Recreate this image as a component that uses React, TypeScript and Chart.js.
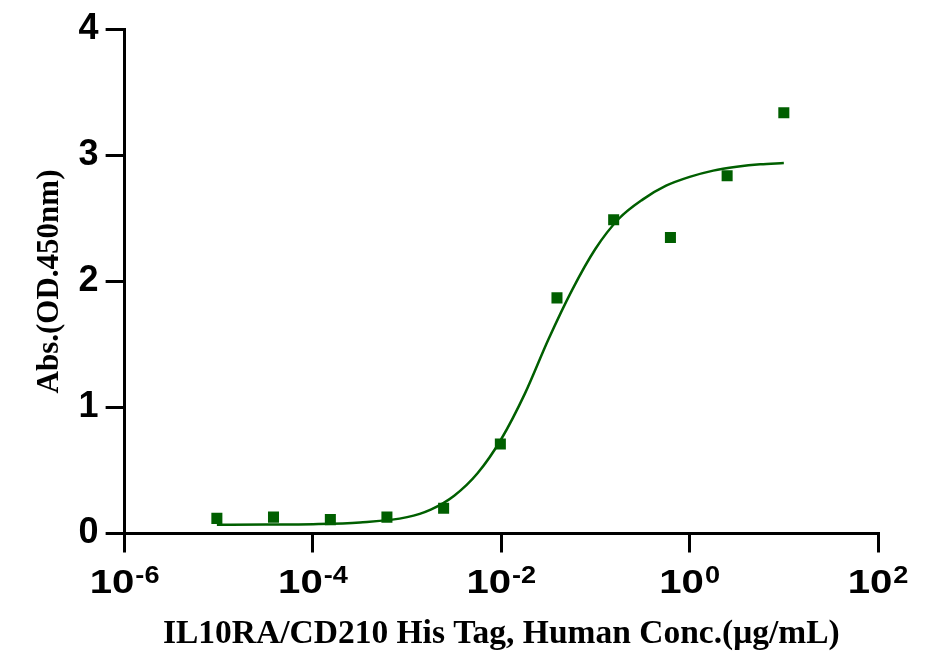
import React, { useEffect, useRef } from 'react';
import { Chart, registerables } from 'chart.js';
Chart.register(...registerables);

// measured points: 4-fold dilution series (µg/mL) and OD450 readings
const concentrations = [9.54e-6, 3.81e-5, 1.53e-4, 6.1e-4, 2.44e-3, 9.77e-3, 0.039, 0.156, 0.625, 2.5, 10];
const absorbances = [0.12, 0.13, 0.11, 0.13, 0.2, 0.71, 1.87, 2.49, 2.35, 2.84, 3.34];

// fitted curve
const fitX = [9.54e-6, 3.16e-5, 1e-4, 3.16e-4, 1e-3, 1.78e-3, 3.16e-3, 5.62e-3, 1e-2, 1.78e-2, 3.16e-2, 5.62e-2, 0.1, 0.178, 0.316, 0.562, 1, 1.78, 3.16, 5.62, 10];
const fitY = [0.07, 0.071, 0.074, 0.088, 0.13, 0.19, 0.3, 0.48, 0.75, 1.11, 1.54, 1.93, 2.26, 2.5, 2.65, 2.76, 2.83, 2.88, 2.91, 2.93, 2.94];

const xTickExponents = [-6, -4, -2, 0, 2];
const yMin = 0;
const yMax = 4;

const xTitle = 'IL10RA/CD210 His Tag, Human Conc.(μg/mL)';
const yTitle = 'Abs.(OD.450nm)';

const GREEN = '#005f00';
const SANS = '"Liberation Sans", Arial, sans-serif';
const SERIF = '"Liberation Serif", "Times New Roman", serif';
const STRETCH = 1.18;

// x tick labels as 10 with a superscript exponent
const powerLabels = {
    id: 'powerLabels',
    afterDraw(chart: Chart) {
        const { ctx, chartArea } = chart;
        const x = chart.scales.x;
        ctx.save();
        ctx.fillStyle = '#000';
        ctx.textBaseline = 'alphabetic';
        ctx.textAlign = 'left';
        xTickExponents.forEach(exp => {
            const px = x.getPixelForValue(Math.pow(10, exp));
            const sup = String(exp);
            ctx.font = `bold 34px ${SANS}`;
            const baseW = ctx.measureText('10').width * STRETCH;
            ctx.font = `bold 23px ${SANS}`;
            const supW = ctx.measureText(sup).width * STRETCH;
            const gap = 1;
            const left = px - (baseW + gap + supW) / 2;

            ctx.save();
            ctx.font = `bold 34px ${SANS}`;
            ctx.translate(left, chartArea.bottom + 59);
            ctx.scale(STRETCH, 1);
            ctx.fillText('10', 0, 0);
            ctx.restore();

            ctx.save();
            ctx.font = `bold 23px ${SANS}`;
            ctx.translate(left + baseW + gap, chartArea.bottom + 49);
            ctx.scale(STRETCH, 1);
            ctx.fillText(sup, 0, 0);
            ctx.restore();
        });
        ctx.restore();
    }
};

const App: React.FC = () => {
    const canvasRef = useRef<HTMLCanvasElement>(null);
    const chartRef = useRef<Chart | null>(null);

    useEffect(() => {
        if (!canvasRef.current) return;
        if (chartRef.current) chartRef.current.destroy();
        chartRef.current = new Chart(canvasRef.current, {
            type: 'scatter',
            data: {
                datasets: [
                    {
                        label: 'Data',
                        data: concentrations.map((c, i) => ({ x: c, y: absorbances[i] })),
                        pointStyle: 'rect',
                        pointRadius: 7.8,
                        pointBackgroundColor: GREEN,
                        pointBorderWidth: 0,
                        showLine: false,
                    },
                    {
                        label: 'Fit',
                        data: fitX.map((c, i) => ({ x: c, y: fitY[i] })),
                        showLine: true,
                        pointRadius: 0,
                        borderColor: GREEN,
                        borderWidth: 2.5,
                        cubicInterpolationMode: 'monotone',
                        fill: false,
                    },
                ]
            },
            options: {
                responsive: true, maintainAspectRatio: false,
                animation: false,
                layout: { padding: { top: 29.5, right: 47, bottom: 10.9, left: 31.4 } },
                plugins: { legend: { display: false }, tooltip: { enabled: false } },
                scales: {
                    x: {
                        type: 'logarithmic',
                        min: 1e-6, max: 1e2,
                        afterBuildTicks: (scale: any) => {
                            scale.ticks = xTickExponents.map(e => ({ value: Math.pow(10, e) }));
                        },
                        ticks: { display: false },
                        grid: { drawOnChartArea: false, drawTicks: true, tickLength: 19, color: '#000', lineWidth: 3 },
                        border: { display: true, color: '#000', width: 3 },
                        title: {
                            display: true, text: xTitle, color: '#000',
                            font: { family: SERIF, size: 33.5, weight: 'bold' },
                            padding: { top: 61.4, bottom: 0 },
                        },
                    },
                    y: {
                        min: yMin, max: yMax,
                        ticks: {
                            stepSize: 1, color: '#000', padding: 7,
                            font: { family: SANS, size: 36, weight: 'bold' },
                        },
                        grid: { drawOnChartArea: false, drawTicks: true, tickLength: 19, color: '#000', lineWidth: 3 },
                        border: { display: true, color: '#000', width: 3 },
                        title: {
                            display: true, text: yTitle, color: '#000',
                            font: { family: SERIF, size: 31, weight: 'bold' },
                            padding: { top: 0, bottom: 3 },
                        },
                    },
                },
            },
            plugins: [powerLabels],
        });
        return () => { if (chartRef.current) chartRef.current.destroy(); };
    }, []);

    return (
        <div style={{ position: 'absolute', left: 0, top: 0, width: 925, height: 665, background: '#fff' }}>
            <canvas ref={canvasRef}></canvas>
        </div>
    );
};

export default App;
